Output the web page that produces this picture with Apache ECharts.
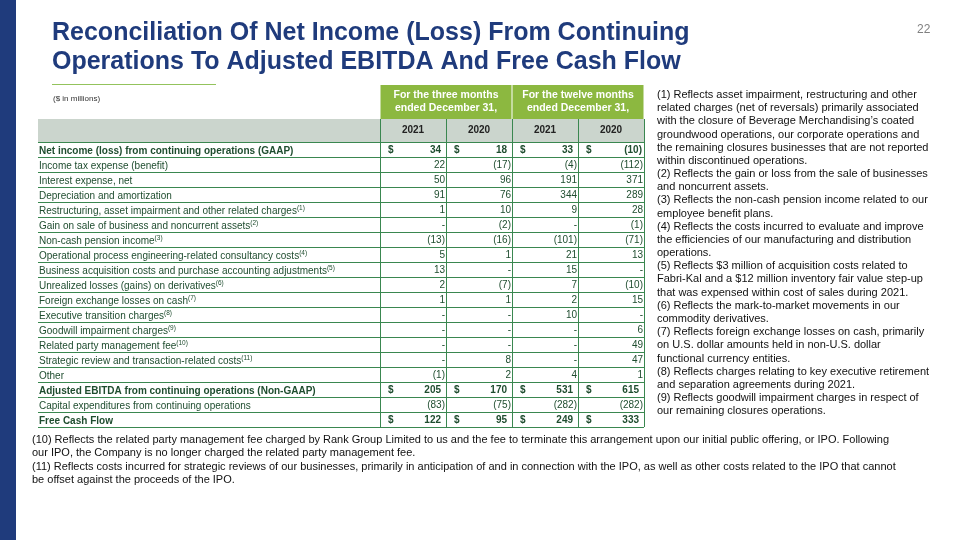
<!DOCTYPE html>
<html>
<head>
<meta charset="utf-8">
<script src="https://cdn.jsdelivr.net/npm/echarts@6/dist/echarts.min.js"></script>
<style>html,body{margin:0;padding:0;background:#fff}#c{width:960px;height:540px}</style>
</head>
<body>
<div id="c"></div>
<script>
// ---- data ----
const rowLabels = [
  'Net income (loss) from continuing operations (GAAP)',
  'Income tax expense (benefit)',
  'Interest expense, net',
  'Depreciation and amortization',
  'Restructuring, asset impairment and other related charges',
  'Gain on sale of business and noncurrent assets',
  'Non-cash pension income',
  'Operational process engineering-related consultancy costs',
  'Business acquisition costs and purchase accounting adjustments',
  'Unrealized losses (gains) on derivatives',
  'Foreign exchange losses on cash',
  'Executive transition charges',
  'Goodwill impairment charges',
  'Related party management fee',
  'Strategic review and transaction-related costs',
  'Other',
  'Adjusted EBITDA from continuing operations (Non-GAAP)',
  'Capital expenditures from continuing operations',
  'Free Cash Flow'
];
const rowNotes = ['', '', '', '', '1', '2', '3', '4', '5', '6', '7', '8', '9', '10', '11', '', '', '', ''];
const totalRows = [0, 16, 18];
const colKeys = ['3m-2021', '3m-2020', '12m-2021', '12m-2020'];
const years = ['2021', '2020', '2021', '2020'];
const periodHeaders = ['For the three months\nended December 31,', 'For the twelve months\nended December 31,'];
const threeMonths2021 = ['34', '22', '50', '91', '1', '-', '(13)', '5', '13', '2', '1', '-', '-', '-', '-', '(1)', '205', '(83)', '122'];
const threeMonths2020 = ['18', '(17)', '96', '76', '10', '(2)', '(16)', '1', '-', '(7)', '1', '-', '-', '-', '8', '2', '170', '(75)', '95'];
const twelveMonths2021 = ['33', '(4)', '191', '344', '9', '-', '(101)', '21', '15', '7', '2', '10', '-', '-', '-', '4', '531', '(282)', '249'];
const twelveMonths2020 = ['(10)', '(112)', '371', '289', '28', '(1)', '(71)', '13', '-', '(10)', '15', '-', '6', '49', '47', '1', '615', '(282)', '333'];
const columns = [threeMonths2021, threeMonths2020, twelveMonths2021, twelveMonths2020];

const sideNotes = [
  '(1) Reflects asset impairment, restructuring and other',
  'related charges (net of reversals) primarily associated',
  'with the closure of Beverage Merchandising\u2019s coated',
  'groundwood operations, our corporate operations and',
  'the remaining closures businesses that are not reported',
  'within discontinued operations.',
  '(2) Reflects the gain or loss from the sale of businesses',
  'and noncurrent assets.',
  '(3) Reflects the non-cash pension income related to our',
  'employee benefit plans.',
  '(4) Reflects the costs incurred to evaluate and improve',
  'the efficiencies of our manufacturing and distribution',
  'operations.',
  '(5) Reflects $3 million of acquisition costs related to',
  'Fabri-Kal and a $12 million inventory fair value step-up',
  'that was expensed within cost of sales during 2021.',
  '(6) Reflects the mark-to-market movements in our',
  'commodity derivatives.',
  '(7) Reflects foreign exchange losses on cash, primarily',
  'on U.S. dollar amounts held in non-U.S. dollar',
  'functional currency entities.',
  '(8) Reflects charges relating to key executive retirement',
  'and separation agreements during 2021.',
  '(9) Reflects goodwill impairment charges in respect of',
  'our remaining closures operations.'
];
const bottomNotes = [
  '(10) Reflects the related party management fee charged by Rank Group Limited to us and the fee to terminate this arrangement upon our initial public offering, or IPO. Following',
  'our IPO, the Company is no longer charged the related party management fee.',
  '(11) Reflects costs incurred for strategic reviews of our businesses, primarily in anticipation of and in connection with the IPO, as well as other costs related to the IPO that cannot',
  'be offset against the proceeds of the IPO.'
];

// ---- chart ----
const FONT = 'Liberation Sans, Arial, sans-serif';
const NAVY = '#1f3b7c';
const GREEN_LINE = '#3a8750';
const TEXT_GREEN = '#1f4d2f';
const HEAD_GREEN = '#8cb840';
const BAND_GRAY = '#cbd5cd';

const cellData = [];
columns.forEach((col, c) => col.forEach((v, r) => cellData.push([c, r, v])));

const chart = echarts.init(document.getElementById('c'), null, {renderer: 'canvas'});
const TOP = 142, ROWH = 15;
const BOTTOM = 540 - (TOP + ROWH * rowLabels.length);

chart.setOption({
  animation: false,
  backgroundColor: '#fff',
  title: [
    {text: 'Reconciliation Of Net Income (Loss) From Continuing\nOperations To Adjusted EBITDA And Free Cash Flow',
     left: 52, top: 18.5, padding: 0,
     textStyle: {fontFamily: FONT, fontSize: 25, fontWeight: 'bold', color: NAVY, lineHeight: 29}},
    {text: '22', left: 917, top: 24, padding: 0,
     textStyle: {fontFamily: FONT, fontSize: 12, fontWeight: 'normal', color: '#808080'}},
    {text: '($ in millions)', left: 53, top: 94.5, padding: 0,
     textStyle: {fontFamily: FONT, fontSize: 8, fontWeight: 'normal', color: '#333'}},
    {text: sideNotes.join('\n'), left: 657, top: 88.5, padding: 0,
     textStyle: {fontFamily: FONT, fontSize: 11, fontWeight: 'normal', color: '#111', lineHeight: 13.17}},
    {text: bottomNotes.join('\n'), left: 32, top: 433.5, padding: 0,
     textStyle: {fontFamily: FONT, fontSize: 11, fontWeight: 'normal', color: '#111', lineHeight: 13.3}}
  ],
  graphic: [
    {type: 'rect', shape: {x: 0, y: 0, width: 16, height: 540}, style: {fill: NAVY}},
    {type: 'line', shape: {x1: 52, y1: 84.5, x2: 216, y2: 84.5}, style: {stroke: '#93c35c', lineWidth: 1}},
    {type: 'rect', shape: {x: 38, y: 119, width: 606, height: 23}, style: {fill: BAND_GRAY}, z: -1}
  ],
  grid: [
    {left: 38, top: TOP, width: 342, bottom: BOTTOM, containLabel: false},
    {left: 380, top: TOP, width: 264, bottom: BOTTOM, containLabel: false}
  ],
  xAxis: [
    {type: 'value', gridIndex: 0, show: false, min: 0, max: 1},
    {type: 'category', gridIndex: 1, position: 'top', data: colKeys, z: 10,
     axisLine: {show: false},
     axisTick: {show: true, length: 23, interval: 0, lineStyle: {color: GREEN_LINE, width: 1}},
     axisLabel: {interval: 0, margin: 11.5, verticalAlign: 'middle', formatter: (v, i) => years[i],
                 fontFamily: FONT, fontSize: 10, fontWeight: 'bold', color: '#222'},
     splitLine: {show: true, interval: 0, lineStyle: {color: GREEN_LINE, width: 1}}},
    {type: 'category', gridIndex: 1, position: 'top', offset: 23, data: periodHeaders,
     axisLine: {show: false}, axisTick: {show: false}, splitLine: {show: false},
     axisLabel: {interval: 0, margin: 0, verticalAlign: 'bottom', align: 'center',
                 width: 131, padding: [4, 0, 4, 0], lineHeight: 13, backgroundColor: HEAD_GREEN,
                 fontFamily: FONT, fontSize: 10.5, fontWeight: 'bold', color: '#fff'}}
  ],
  yAxis: [
    {type: 'category', gridIndex: 0, inverse: true, data: rowLabels,
     axisLine: {show: false}, axisTick: {show: false},
     splitLine: {show: true, interval: 0, lineStyle: {color: GREEN_LINE, width: 1}},
     axisLabel: {inside: true, margin: 1, interval: 0, align: 'left', padding: [3, 0, 0, 0],
       formatter: (v, i) => {
         const st = totalRows.includes(i) ? 'b' : 't';
         return '{' + st + '|' + v + '}' + (rowNotes[i] ? '{s|(' + rowNotes[i] + ')}' : '');
       },
       rich: {
         t: {fontFamily: FONT, fontSize: 10, color: TEXT_GREEN, lineHeight: 12},
         b: {fontFamily: FONT, fontSize: 10, fontWeight: 'bold', color: TEXT_GREEN, lineHeight: 12},
         s: {fontFamily: FONT, fontSize: 6.5, color: TEXT_GREEN, verticalAlign: 'top', lineHeight: 8}
       }}},
    {type: 'category', gridIndex: 1, inverse: true, data: rowLabels,
     axisLine: {show: false}, axisTick: {show: false}, axisLabel: {show: false},
     splitLine: {show: true, interval: 0, lineStyle: {color: GREEN_LINE, width: 1}}}
  ],
  series: [{
    type: 'custom',
    coordinateSystem: 'cartesian2d',
    xAxisIndex: 1, yAxisIndex: 1,
    encode: {x: 0, y: 1},
    data: cellData,
    renderItem: (params, api) => {
      const c = api.value(0), r = api.value(1);
      const txt = cellData[params.dataIndex][2];
      const pt = api.coord([c, r]);
      const sz = api.size([1, 1]);
      const isTotal = totalRows.includes(r);
      const neg = txt.charAt(0) === '(';
      const right = pt[0] + sz[0] / 2 - (isTotal ? (neg ? 2 : 5) : 1);
      const children = [{
        type: 'text',
        style: {text: txt, x: right, y: pt[1] + 0.5, align: 'right', verticalAlign: 'middle',
                fontFamily: FONT, fontSize: 10, fontWeight: isTotal ? 'bold' : 'normal', fill: TEXT_GREEN}
      }];
      if (isTotal) {
        children.push({
          type: 'text',
          style: {text: '$', x: pt[0] - sz[0] / 2 + 8, y: pt[1] + 0.5, align: 'left', verticalAlign: 'middle',
                  fontFamily: FONT, fontSize: 10, fontWeight: 'bold', fill: TEXT_GREEN}
        });
      }
      return {type: 'group', children};
    }
  }]
});
</script>
</body>
</html>
